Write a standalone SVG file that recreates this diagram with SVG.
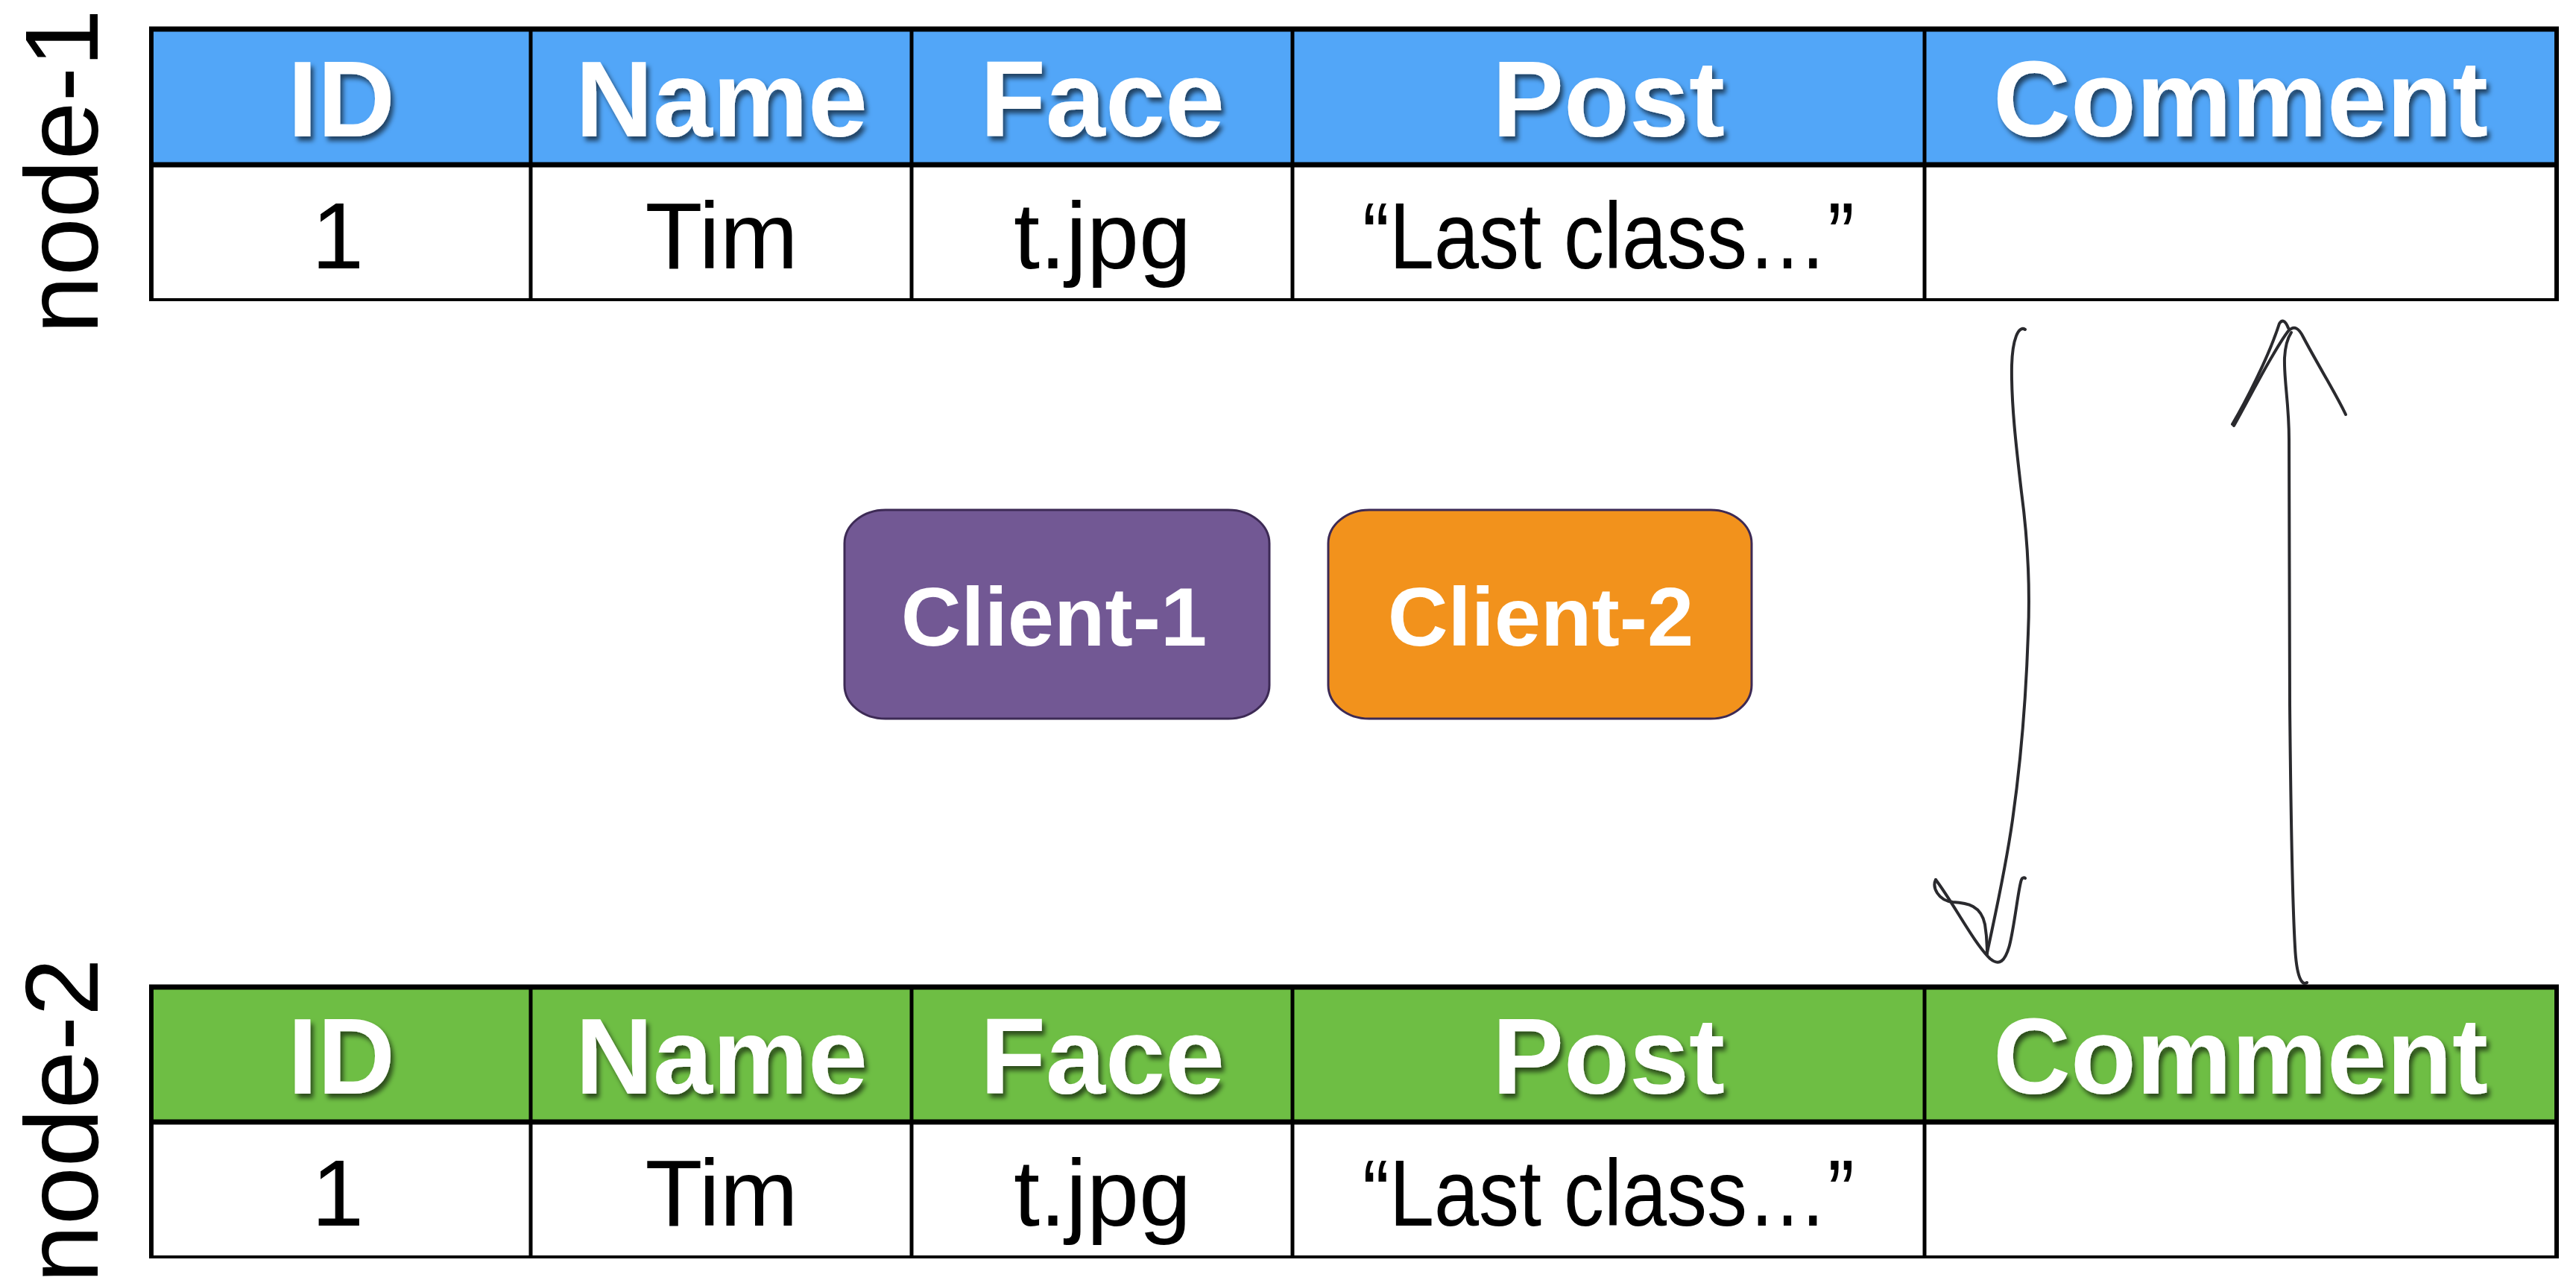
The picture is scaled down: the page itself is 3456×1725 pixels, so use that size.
<svg xmlns="http://www.w3.org/2000/svg" width="3456" height="1725" viewBox="0 0 3456 1725">
<defs>
<filter id="sh" x="-10%" y="-20%" width="130%" height="150%">
<feDropShadow dx="4" dy="6" stdDeviation="3" flood-color="#000" flood-opacity="0.6"/>
</filter>
<style>
.hd{font-family:"Liberation Sans",Arial,sans-serif;font-weight:bold;font-size:144px;fill:#fff;text-anchor:middle;filter:url(#sh)}
.dt{font-family:"Liberation Sans",Arial,sans-serif;font-size:126px;fill:#000;text-anchor:middle}
.lbl{font-family:"Liberation Sans",Arial,sans-serif;font-size:140px;fill:#000;text-anchor:middle}
.cl{font-family:"Liberation Sans",Arial,sans-serif;font-weight:bold;font-size:112px;fill:#fff;text-anchor:middle}
.grid{stroke:#000;fill:none}
.pen{stroke:#2a2a2e;stroke-width:4;fill:none;stroke-linecap:round;stroke-linejoin:round}
.cbox{stroke:#3d2a55;stroke-width:3}
</style>
</defs>
<rect width="3456" height="1725" fill="#fff"/>

<g id="node-1">
<text class="lbl" transform="translate(131,230) rotate(-90)">node-1</text>
<rect x="203" y="39" width="3227" height="182" fill="#52A6F8"/>
<rect x="203" y="221" width="3227" height="181" fill="#fff"/>
<g class="grid">
<line x1="200" y1="39" x2="3433" y2="39" stroke-width="7"/>
<line x1="200" y1="221" x2="3433" y2="221" stroke-width="7"/>
<line x1="200" y1="402" x2="3433" y2="402" stroke-width="4"/>
<line x1="203" y1="36" x2="203" y2="404" stroke-width="6"/>
<line x1="712" y1="36" x2="712" y2="404" stroke-width="5"/>
<line x1="1223" y1="36" x2="1223" y2="404" stroke-width="5"/>
<line x1="1734" y1="36" x2="1734" y2="404" stroke-width="5"/>
<line x1="2582" y1="36" x2="2582" y2="404" stroke-width="5"/>
<line x1="3430" y1="36" x2="3430" y2="404" stroke-width="6"/>
</g>
<text class="hd" x="458" y="183">ID</text>
<text class="hd" x="968" y="183">Name</text>
<text class="hd" x="1479" y="183">Face</text>
<text class="hd" x="2158" y="183">Post</text>
<text class="hd" x="3006" y="183">Comment</text>
<text class="dt" x="453" y="360">1</text>
<text class="dt" x="968" y="360">Tim</text>
<text class="dt" x="1479" y="360">t.jpg</text>
<text class="dt" x="2158" y="360" textLength="660" lengthAdjust="spacingAndGlyphs">“Last class…”</text>
</g>

<g id="node-2">
<text class="lbl" transform="translate(131,1503) rotate(-90)">node-2</text>
<rect x="203" y="1324" width="3227" height="181" fill="#6EBE44"/>
<rect x="203" y="1505" width="3227" height="181" fill="#fff"/>
<g class="grid">
<line x1="200" y1="1324" x2="3433" y2="1324" stroke-width="7"/>
<line x1="200" y1="1505" x2="3433" y2="1505" stroke-width="7"/>
<line x1="200" y1="1686" x2="3433" y2="1686" stroke-width="4"/>
<line x1="203" y1="1321" x2="203" y2="1688" stroke-width="6"/>
<line x1="712" y1="1321" x2="712" y2="1688" stroke-width="5"/>
<line x1="1223" y1="1321" x2="1223" y2="1688" stroke-width="5"/>
<line x1="1734" y1="1321" x2="1734" y2="1688" stroke-width="5"/>
<line x1="2582" y1="1321" x2="2582" y2="1688" stroke-width="5"/>
<line x1="3430" y1="1321" x2="3430" y2="1688" stroke-width="6"/>
</g>
<text class="hd" x="458" y="1467">ID</text>
<text class="hd" x="968" y="1467">Name</text>
<text class="hd" x="1479" y="1467">Face</text>
<text class="hd" x="2158" y="1467">Post</text>
<text class="hd" x="3006" y="1467">Comment</text>
<text class="dt" x="453" y="1644">1</text>
<text class="dt" x="968" y="1644">Tim</text>
<text class="dt" x="1479" y="1644">t.jpg</text>
<text class="dt" x="2158" y="1644" textLength="660" lengthAdjust="spacingAndGlyphs">“Last class…”</text>
</g>

<g id="client-1">
<rect class="cbox" x="1133" y="684" width="570" height="280" rx="55" ry="45" fill="#725894"/>
<text class="cl" x="1414" y="866">Client-1</text>
</g>
<g id="client-2">
<rect class="cbox" x="1782" y="684" width="568" height="280" rx="55" ry="45" fill="#F2921C"/>
<text class="cl" x="2067" y="866">Client-2</text>
</g>

<g id="connectors">
<path class="pen" d="M2717,442 C2708,436 2700,455 2699,490 C2698,540 2705,600 2712,660 C2720,720 2724,780 2721,850 C2718,940 2710,1030 2700,1100 C2690,1170 2676,1230 2666,1278"/>
<path class="pen" d="M2597,1180 C2592,1190 2600,1208 2620,1210 C2640,1211 2658,1215 2663,1240 C2666,1258 2666,1270 2666,1280"/>
<path class="pen" d="M2597,1180 C2620,1210 2648,1265 2670,1286 C2682,1296 2690,1290 2696,1268 C2703,1240 2708,1190 2712,1180 C2713,1177 2716,1177 2717,1178"/>
<path class="pen" d="M3095,1318 C3088,1323 3081,1310 3079,1270 C3075,1200 3073,1050 3072,945 C3071,820 3071,700 3071,590 C3071,540 3064,510 3065,480 C3066,462 3070,452 3074,446"/>
<path class="pen" d="M2995,569 C3015,535 3045,475 3058,434 C3062,428 3066,430 3070,440"/>
<path class="pen" d="M2997,571 C3020,530 3050,470 3070,444 C3078,436 3084,440 3090,452 C3110,490 3135,530 3147,556"/>
</g>
</svg>
